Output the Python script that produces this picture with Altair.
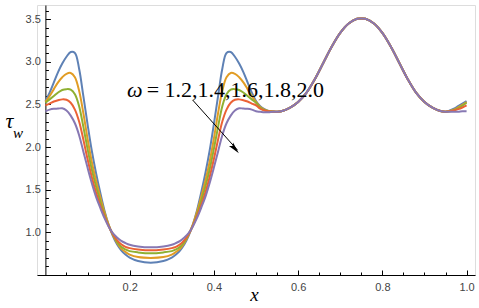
import altair as alt
import pandas as pd

# ---------------- data ----------------
x_vals = [0.00, 0.01, 0.02, 0.03, 0.04, 0.05, 0.06, 0.07, 0.08, 0.09, 0.10,
          0.11, 0.12, 0.13, 0.14, 0.15, 0.16, 0.17, 0.18, 0.19, 0.20,
          0.22, 0.25, 0.28,
          0.30, 0.31, 0.32, 0.33, 0.34, 0.35, 0.36, 0.37, 0.38, 0.39, 0.40,
          0.41, 0.42, 0.43, 0.44, 0.45, 0.46, 0.47, 0.48, 0.49, 0.50,
          0.51, 0.52, 0.53, 0.54, 0.55, 0.56, 0.58, 0.60, 0.62, 0.64, 0.66,
          0.68, 0.70, 0.72, 0.74, 0.75, 0.76, 0.78, 0.80, 0.82, 0.84, 0.86,
          0.88, 0.90, 0.92, 0.94, 0.95, 0.96, 0.97, 0.98, 0.99, 1.00]

tau_w_12 = [2.54, 2.64, 2.76, 2.88, 2.98, 3.06, 3.115, 3.105, 2.92, 2.60, 2.27,
            1.96, 1.70, 1.47, 1.26, 1.09, 0.96, 0.86, 0.79, 0.74, 0.705,
            0.665, 0.645, 0.665,
            0.705, 0.74, 0.79, 0.86, 0.96, 1.09, 1.26, 1.47, 1.70, 1.96, 2.27,
            2.60, 2.92, 3.105, 3.115, 3.06, 2.98, 2.88, 2.76, 2.64, 2.54,
            2.48, 2.445, 2.425, 2.42, 2.415, 2.42, 2.46, 2.53, 2.64, 2.80, 2.99,
            3.18, 3.34, 3.45, 3.505, 3.51, 3.505, 3.45, 3.34, 3.18, 2.99, 2.80,
            2.64, 2.53, 2.46, 2.42, 2.415, 2.43, 2.45, 2.48, 2.51, 2.54]

tau_w_14 = [2.53, 2.60, 2.68, 2.76, 2.82, 2.86, 2.87, 2.82, 2.66, 2.40, 2.10,
            1.83, 1.61, 1.42, 1.24, 1.09, 0.97, 0.88, 0.81, 0.77, 0.74,
            0.71, 0.70, 0.71,
            0.74, 0.77, 0.81, 0.88, 0.97, 1.09, 1.24, 1.42, 1.61, 1.83, 2.10,
            2.40, 2.66, 2.82, 2.87, 2.86, 2.82, 2.76, 2.68, 2.60, 2.53,
            2.47, 2.44, 2.425, 2.42, 2.415, 2.42, 2.46, 2.53, 2.64, 2.80, 2.99,
            3.18, 3.34, 3.45, 3.505, 3.51, 3.505, 3.45, 3.34, 3.18, 2.99, 2.80,
            2.64, 2.53, 2.46, 2.42, 2.415, 2.425, 2.44, 2.465, 2.495, 2.53]

tau_w_16 = [2.52, 2.56, 2.60, 2.64, 2.67, 2.68, 2.675, 2.62, 2.48, 2.24, 1.98,
            1.74, 1.54, 1.37, 1.21, 1.08, 0.98, 0.89, 0.83, 0.80, 0.78,
            0.765, 0.755, 0.765,
            0.78, 0.80, 0.83, 0.89, 0.98, 1.08, 1.21, 1.37, 1.54, 1.74, 1.98,
            2.24, 2.48, 2.62, 2.675, 2.68, 2.67, 2.64, 2.60, 2.56, 2.52,
            2.46, 2.435, 2.42, 2.415, 2.415, 2.42, 2.46, 2.53, 2.64, 2.80, 2.99,
            3.18, 3.34, 3.45, 3.505, 3.51, 3.505, 3.45, 3.34, 3.18, 2.99, 2.80,
            2.64, 2.53, 2.46, 2.42, 2.415, 2.42, 2.435, 2.455, 2.485, 2.52]

tau_w_18 = [2.49, 2.51, 2.535, 2.55, 2.56, 2.555, 2.52, 2.44, 2.30, 2.09, 1.86,
            1.65, 1.47, 1.32, 1.19, 1.075, 0.98, 0.91, 0.86, 0.83, 0.815,
            0.80, 0.79, 0.80,
            0.815, 0.83, 0.86, 0.91, 0.98, 1.075, 1.19, 1.32, 1.47, 1.65, 1.86,
            2.09, 2.30, 2.44, 2.52, 2.555, 2.56, 2.55, 2.535, 2.51, 2.49,
            2.45, 2.43, 2.42, 2.415, 2.415, 2.42, 2.46, 2.53, 2.64, 2.80, 2.99,
            3.18, 3.34, 3.45, 3.505, 3.51, 3.505, 3.45, 3.34, 3.18, 2.99, 2.80,
            2.64, 2.53, 2.46, 2.42, 2.415, 2.42, 2.43, 2.445, 2.465, 2.49]

tau_w_20 = [2.42, 2.44, 2.45, 2.452, 2.456, 2.43, 2.37, 2.28, 2.14, 1.95, 1.76,
            1.58, 1.42, 1.29, 1.17, 1.07, 0.99, 0.94, 0.90, 0.875, 0.855,
            0.835, 0.825, 0.835,
            0.855, 0.875, 0.90, 0.94, 0.99, 1.07, 1.17, 1.29, 1.42, 1.58, 1.76,
            1.95, 2.14, 2.28, 2.37, 2.43, 2.456, 2.452, 2.45, 2.44, 2.42,
            2.415, 2.41, 2.41, 2.415, 2.415, 2.42, 2.46, 2.53, 2.64, 2.80, 2.99,
            3.18, 3.34, 3.45, 3.505, 3.51, 3.505, 3.45, 3.34, 3.18, 2.99, 2.80,
            2.64, 2.53, 2.46, 2.42, 2.415, 2.415, 2.415, 2.415, 2.42, 2.42]

omega_labels = ["1.2", "1.4", "1.6", "1.8", "2.0"]
series_colors = ["#5E81B5", "#E19C24", "#8FB032", "#EB6235", "#8778B3"]

x_major_ticks = [0.2, 0.4, 0.6, 0.8, 1.0]
x_all_ticks = [0.05, 0.1, 0.15, 0.2, 0.25, 0.3, 0.35, 0.4, 0.45, 0.5,
               0.55, 0.6, 0.65, 0.7, 0.75, 0.8, 0.85, 0.9, 0.95, 1.0]
y_major_ticks = [1.0, 1.5, 2.0, 2.5, 3.0, 3.5]
y_all_ticks = [0.6, 0.7, 0.8, 0.9, 1.0, 1.1, 1.2, 1.3, 1.4, 1.5, 1.6, 1.7,
               1.8, 1.9, 2.0, 2.1, 2.2, 2.3, 2.4, 2.5, 2.6, 2.7, 2.8, 2.9,
               3.0, 3.1, 3.2, 3.3, 3.4, 3.5, 3.6]

annotation_text = "= 1.2,1.4,1.6,1.8,2.0"

# ---------------- table ----------------
series = [tau_w_12, tau_w_14, tau_w_16, tau_w_18, tau_w_20]
rows = []
for lab, ys in zip(omega_labels, series):
    for xv, yv in zip(x_vals, ys):
        rows.append({"x": xv, "tau": yv, "omega": lab})
df = pd.DataFrame(rows)

W, H = 438, 270
Y_AXIS_SHIFT = 8.4  # y axis sits at x = 0, inside the padded range

xscale = alt.Scale(domain=[-0.02, 1.02], nice=False, zero=False)
yscale = alt.Scale(domain=[0.5, 3.667], nice=False, zero=False)

label_font = "Liberation Sans"
serif = "Liberation Serif"

lines = alt.Chart(df).mark_line(strokeWidth=2, interpolate="catmull-rom").encode(
    x=alt.X("x:Q", scale=xscale, axis=alt.Axis(
        orient="bottom", values=x_major_ticks, format=".1f", ticks=False, tickSize=0,
        grid=False, domainColor="black", domainWidth=1,
        labelFont=label_font, labelFontSize=11, labelColor="#444444", labelPadding=6,
        title="x", titleFont=serif, titleFontStyle="italic", titleFontWeight="normal",
        titleFontSize=19, titleColor="black", titleX=217, titleY=25,
        titleBaseline="alphabetic", titleAlign="center")),
    y=alt.Y("tau:Q", scale=yscale, axis=alt.Axis(
        orient="left", offset=-Y_AXIS_SHIFT, values=y_major_ticks, format=".1f",
        ticks=False, tickSize=0, grid=False, domainColor="black", domainWidth=1,
        labelFont=label_font, labelFontSize=11, labelColor="#444444", labelPadding=5,
        title="τ", titleAngle=0, titleFont=serif, titleFontStyle="italic",
        titleFontWeight="normal", titleFontSize=22, titleColor="black",
        titleX=-36.5, titleY=122, titleAlign="center", titleBaseline="alphabetic")),
    color=alt.Color("omega:N", scale=alt.Scale(domain=omega_labels, range=series_colors),
                    legend=None),
)

x_major_test = "abs(datum.value*5 - round(datum.value*5)) < 0.001"
y_major_test = "abs(datum.value*2 - round(datum.value*2)) < 0.001"

ticks_layer = alt.Chart(df).mark_point(opacity=0).encode(
    x=alt.X("x:Q", scale=xscale, axis=alt.Axis(
        orient="top", offset=-H, values=x_all_ticks, labels=False, domain=False,
        grid=False, title=None, tickColor="black", tickWidth=1,
        tickSize={"condition": {"test": x_major_test, "value": 5}, "value": 3})),
    y=alt.Y("tau:Q", scale=yscale, axis=alt.Axis(
        orient="right", offset=-(W - Y_AXIS_SHIFT), values=y_all_ticks, labels=False,
        domain=False, grid=False, title=None, tickColor="black", tickWidth=1,
        tickSize={"condition": {"test": y_major_test, "value": 5}, "value": 3})),
)

base = alt.Chart(pd.DataFrame({"k": [0]}))

omega_sym = base.mark_text(text="ω", font=serif, fontSize=22, fontStyle="italic",
                           align="left", baseline="alphabetic", color="black").encode(
    x=alt.XDatum(0.1936, scale=xscale, axis=None),
    y=alt.YDatum(2.5915, scale=yscale, axis=None),
)
omega_vals = base.mark_text(text=annotation_text, font=serif, fontSize=22,
                            align="left", baseline="alphabetic", color="black").encode(
    x=alt.XDatum(0.2403, scale=xscale, axis=None),
    y=alt.YDatum(2.5915, scale=yscale, axis=None),
)

arrow_line = base.mark_rule(color="black", strokeWidth=1).encode(
    x=alt.XDatum(0.3495, scale=xscale, axis=None),
    y=alt.YDatum(2.553, scale=yscale, axis=None),
    x2=alt.X2Datum(0.4560),
    y2=alt.Y2Datum(1.965),
)
arrow_head = base.mark_point(shape="M0,0L0.45,2L0,1.6L-0.45,2Z", filled=True,
                             color="black", opacity=1, size=144, angle=139,
                             strokeWidth=0).encode(
    x=alt.XDatum(0.4593, scale=xscale, axis=None),
    y=alt.YDatum(1.927, scale=yscale, axis=None),
)

w_sub = base.mark_text(text="w", font=serif, fontSize=15, fontStyle="italic",
                       align="center", baseline="alphabetic", color="black").encode(
    x=alt.value(-19), y=alt.value(133.3))

chart = alt.layer(lines, ticks_layer, omega_sym, omega_vals, arrow_line, arrow_head, w_sub).resolve_axis(
    x="independent", y="independent"
).properties(
    width=W, height=H,
    autosize=alt.AutoSizeParams(type="none"),
    padding={"left": 37, "top": 5, "right": 4, "bottom": 33},
).configure_view(stroke=None).configure(background="white")

chart.save("out.html", embed_options={"renderer": "svg", "actions": False})
